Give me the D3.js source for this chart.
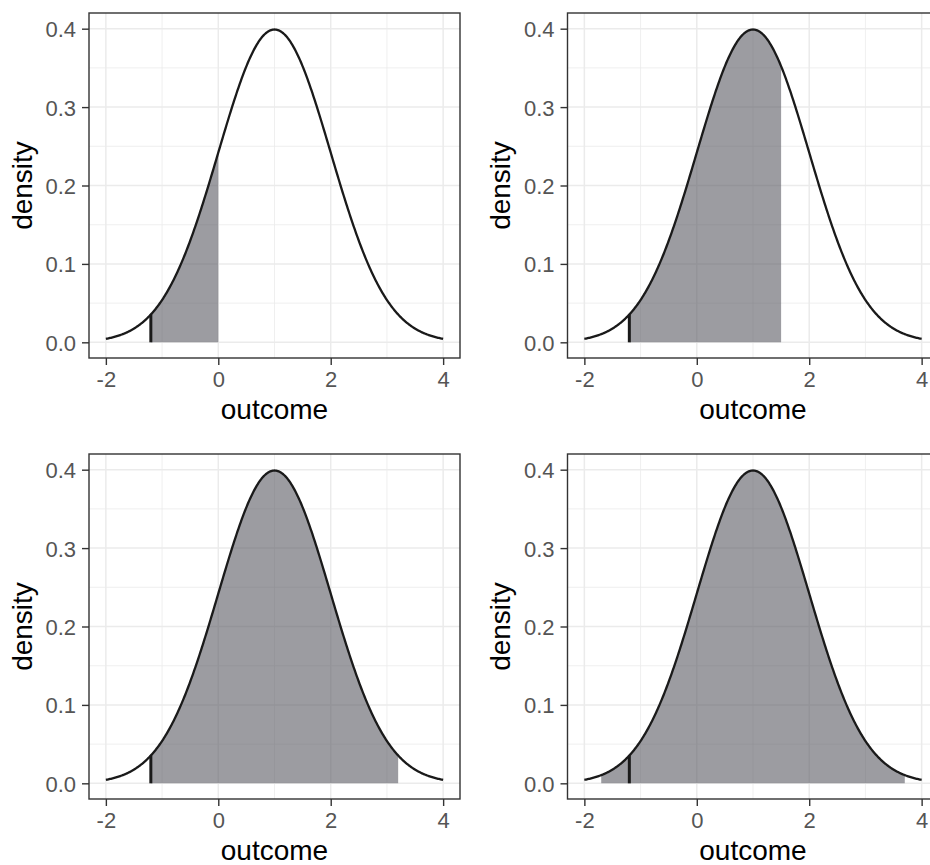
<!DOCTYPE html>
<html>
<head>
<meta charset="utf-8">
<script src="https://cdnjs.cloudflare.com/ajax/libs/d3/7.8.5/d3.min.js"></script>
<style>
    body { margin: 0; background: #fff; }
    svg { display: block; font-family: 'Liberation Sans', Arial, sans-serif; }
</style>
</head>
<body>
<svg id="chart" width="930" height="865"></svg>
<script>

// distribution drawn in every panel
let curveMean = 1
let curveSd = 1
let curveRange = [-2, 4]

// shaded interval per panel (top-left, top-right, bottom-left, bottom-right)
let shadeFrom = [-1.2, -1.2, -1.2, -1.7]
let shadeTo = [0, 1.5, 3.2, 3.7]

// observed value marked with a black bar
let markAt = -1.2

let xTicks = [-2, 0, 2, 4]
let xMinor = [-1, 1, 3]
let yTicks = [0, 0.1, 0.2, 0.3, 0.4]
let yMinor = [0.05, 0.15, 0.25, 0.35]

function dnorm(x) {
    let z = (x - curveMean) / curveSd
    return Math.exp(-0.5 * z * z) / (curveSd * Math.sqrt(2 * Math.PI))
}

function grid(a, b, n) {
    return d3.range(n + 1).map(function (i) { return a + (b - a) * i / n })
}

let svg = d3.select('#chart')

// panel boxes: left, top
let panels = [
    { left: 89, top: 13 },
    { left: 567.5, top: 13 },
    { left: 89, top: 454 },
    { left: 567.5, top: 454 }
]
let panelW = 371,
    panelH = 345

panels.forEach(function (p, i) {

    let x = d3.scaleLinear().domain([-2.3, 4.3]).range([0, panelW])
    let y = d3.scaleLinear().domain([-0.02, 0.42]).range([panelH, 0])

    let g = svg.append('g').attr('transform', 'translate(' + p.left + ',' + p.top + ')')

    // Gridlines
    g.selectAll('.xminor').data(xMinor).enter().append('line')
        .attr('x1', x).attr('x2', x).attr('y1', 0).attr('y2', panelH)
        .attr('stroke', '#ebebeb').attr('stroke-width', 0.8)
    g.selectAll('.yminor').data(yMinor).enter().append('line')
        .attr('y1', y).attr('y2', y).attr('x1', 0).attr('x2', panelW)
        .attr('stroke', '#ebebeb').attr('stroke-width', 0.8)
    g.selectAll('.xmajor').data(xTicks).enter().append('line')
        .attr('x1', x).attr('x2', x).attr('y1', 0).attr('y2', panelH)
        .attr('stroke', '#ebebeb').attr('stroke-width', 1.5)
    g.selectAll('.ymajor').data(yTicks).enter().append('line')
        .attr('y1', y).attr('y2', y).attr('x1', 0).attr('x2', panelW)
        .attr('stroke', '#ebebeb').attr('stroke-width', 1.5)

    // Shaded area
    let area = d3.area()
        .x(function (d) { return x(d) })
        .y0(y(0))
        .y1(function (d) { return y(dnorm(d)) })

    g.append('path')
        .datum(grid(shadeFrom[i], shadeTo[i], 200))
        .attr('d', area)
        .attr('fill', '#5a5a62')
        .attr('fill-opacity', 0.6)

    // Density curve
    let line = d3.line()
        .x(function (d) { return x(d) })
        .y(function (d) { return y(dnorm(d)) })

    g.append('path')
        .datum(grid(curveRange[0], curveRange[1], 400))
        .attr('d', line)
        .attr('fill', 'none')
        .attr('stroke', '#1a1a1a')
        .attr('stroke-width', 2.3)

    // Observed value
    g.append('line')
        .attr('x1', x(markAt)).attr('x2', x(markAt))
        .attr('y1', y(0)).attr('y2', y(dnorm(markAt)))
        .attr('stroke', '#1a1a1a')
        .attr('stroke-width', 3)

    // Panel border
    g.append('rect')
        .attr('width', panelW).attr('height', panelH)
        .attr('fill', 'none')
        .attr('stroke', '#333333')
        .attr('stroke-width', 1.4)

    // Axes
    let xAxis = g.append('g')
        .attr('transform', 'translate(0,' + panelH + ')')
        .call(d3.axisBottom(x).tickValues(xTicks).tickSize(7).tickPadding(6)
            .tickFormat(function (d) { return String(d) }))
    let yAxis = g.append('g')
        .call(d3.axisLeft(y).tickValues(yTicks).tickSize(7).tickPadding(6).tickFormat(d3.format('.1f')))

    xAxis.select('.domain').remove()
    yAxis.select('.domain').remove()
    g.selectAll('.tick line').attr('stroke', '#333333').attr('stroke-width', 1.4)
    g.selectAll('.tick text')
        .attr('fill', '#555555')
        .style('font-size', '22px')
        .style('font-family', "'Liberation Sans', Arial, sans-serif")
    xAxis.selectAll('.tick text').attr('dy', '0.72em')
    yAxis.selectAll('.tick text').attr('dy', '0.36em')

    // Axis titles
    g.append('text')
        .attr('x', panelW / 2)
        .attr('y', panelH + 61)
        .attr('text-anchor', 'middle')
        .style('font-size', '28px')
        .attr('fill', '#000')
        .text('outcome')

    g.append('text')
        .attr('transform', 'translate(-57.5,' + (panelH / 2) + ') rotate(-90)')
        .attr('text-anchor', 'middle')
        .style('font-size', '28px')
        .attr('fill', '#000')
        .text('density')
})

</script>
</body>
</html>
